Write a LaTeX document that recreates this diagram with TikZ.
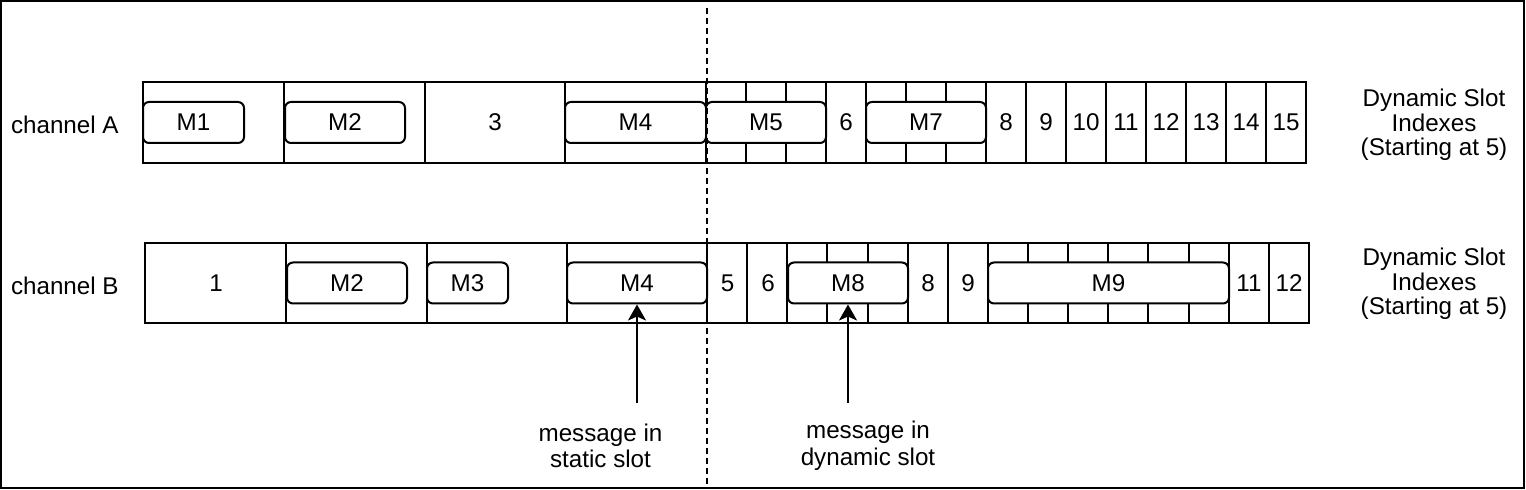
\documentclass[tikz,border=0pt]{standalone}
\usepackage{fontspec}
\setmainfont{Liberation Sans}
\usetikzlibrary{arrows.meta,positioning}

\begin{document}
\begin{tikzpicture}[x=0.5pt,y=-0.5pt,line width=1pt,
        font=\fontsize{12.1}{12.5}\selectfont,
        msg/.style={draw,fill=white,rounded corners=3pt,inner sep=0pt,minimum height=20.5pt},
        txt/.style={inner sep=0pt,align=center},
        arr/.style={-{Stealth[length=8pt,width=9pt,inset=2pt]}}]
        \useasboundingbox (0,0) rectangle (1526,490);
        \draw (1,1) rectangle (1524,488);

        %%%% Channel A ==================================
        \node[txt,anchor=west] (chA) at (10,124.5) {channel A};
        % Slots
        \draw (143,82) rectangle (1306,163);
        \foreach \x in {284,425,565,706} \draw (\x,82) -- (\x,163);
        \foreach \i in {1,...,14} \draw (706+40*\i,82) -- (706+40*\i,163);

        % Slot indexes
        \node[txt] (a3) at (495,122.5) {3};
        \node[txt] (a6) at (846,122.5) {6};
        \foreach \n [count=\k] in {8,...,15} \node[txt] (a\n) at (966+40*\k,122.5) {\n};

        % Messages
        \node[msg,minimum width=50.5pt] (aM1) at (193.5,122.5) {M1};
        \node[msg,minimum width=60pt] (aM2) at (345,122.5) {M2};
        \node[msg,minimum width=70.5pt] (aM4) at (635.5,122.5) {M4};
        \node[msg,minimum width=60pt] (aM5) at (766,122.5) {M5};
        \node[msg,minimum width=60pt] (aM7) at (926,122.5) {M7};

        \node[txt,font=\fontsize{12.1}{12.25}\selectfont] (idxA) at (1434,125) {Dynamic Slot\\Indexes\\(Starting at 5)};

        %%%% Channel B ==================================
        \node[txt,anchor=west] (chB) at (10,286) {channel B};
        % Slots
        \draw (145,243) rectangle (1309,323);
        \foreach \x in {286,427,567,707} \draw (\x,243) -- (\x,323);
        \foreach \i in {1,...,14} \draw (707+40.13*\i,243) -- (707+40.13*\i,323);

        % Slot indexes
        \node[txt] (b1) at (216,283) {1};
        \node[txt] (b5) at (727.5,283) {5};
        \node[txt] (b6) at (768,283) {6};
        \node[txt] (b8) at (928,283) {8};
        \node[txt] (b9) at (968,283) {9};
        \node[txt] (b11) at (1249,283) {11};
        \node[txt] (b12) at (1289,283) {12};

        % Messages
        \node[msg,minimum width=60pt] (bM2) at (347,283) {M2};
        \node[msg,minimum width=40.5pt] (bM3) at (467.5,283) {M3};
        \node[msg,minimum width=70pt] (bM4) at (637,283) {M4};
        \node[msg,minimum width=60pt] (bM8) at (848,283) {M8};
        \node[msg,minimum width=120.5pt] (bM9) at (1108.5,283) {M9};

        \node[txt,font=\fontsize{12.1}{12.25}\selectfont] (idxB) at (1434,284) {Dynamic Slot\\Indexes\\(Starting at 5)};

        %%%% Static / dynamic border =====================
        \coordinate (top) at (706.5,8);
        \coordinate (bot) at (706.5,487);
        \draw[dash pattern=on 3pt off 2pt] (top) -- (bot);

        %%%% Callouts ===================================
        \coordinate (s1) at (637,403);
        \coordinate (s2) at (848,403);
        \draw[arr] (s1) -- (bM4.south);
        \draw[arr] (s2) -- (bM8.south);
        \node[txt,font=\fontsize{12.1}{13.3}\selectfont] (lblS) at (600.5,446) {message in\\static slot};
        \node[txt,font=\fontsize{12.1}{13.3}\selectfont] (lblD) at (868,446) {message in\\dynamic slot};
    \end{tikzpicture}
\end{document}
